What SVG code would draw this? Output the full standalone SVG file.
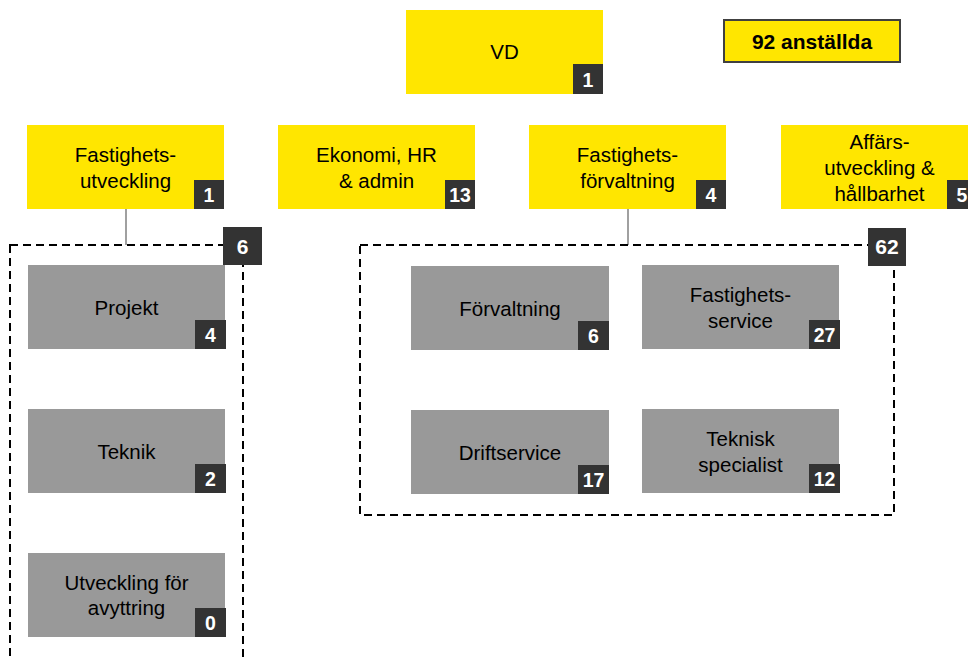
<svg xmlns="http://www.w3.org/2000/svg" width="968" height="658" viewBox="0 0 968 658">
<style>
.y{fill:#FFE600}
.g{fill:#999999}
.b{fill:#333333}
.t{font-family:"Liberation Sans",Arial,sans-serif;font-size:20.5px;fill:#000;text-anchor:middle}
.n{font-family:"Liberation Sans",Arial,sans-serif;font-size:19.5px;font-weight:bold;fill:#fff;text-anchor:middle}
.nb{font-family:"Liberation Sans",Arial,sans-serif;font-size:21px;font-weight:bold;fill:#fff;text-anchor:middle}
.d{fill:none;stroke:#000;stroke-width:2;stroke-dasharray:8 5}
.c{stroke:#808080;stroke-width:1.5;fill:none}
</style>
<rect width="968" height="658" fill="#fff"/>
<g id="connectors">
<line class="c" x1="126" y1="209" x2="126" y2="245"/>
<line class="c" x1="628" y1="209" x2="628" y2="245"/>
</g>
<g id="group-utveckling">
<rect class="d" x="10" y="245" width="233" height="460"/>
<rect class="b" x="223" y="227" width="39" height="38"/>
<text class="nb" x="242.5" y="253.5">6</text>
</g>
<g id="group-forvaltning">
<rect class="d" x="360" y="245" width="534" height="270"/>
<rect class="b" x="868" y="228" width="38" height="38"/>
<text class="nb" x="887" y="254">62</text>
</g>
<g id="total">
<rect x="724" y="20" width="176" height="42" fill="#FFE600" stroke="#404040" stroke-width="2"/>
<text x="812" y="49" style="font-family:'Liberation Sans',Arial,sans-serif;font-size:21px;font-weight:bold;fill:#000;text-anchor:middle">92 anställda</text>
</g>
<g id="vd">
<rect class="y" x="406" y="10" width="197" height="84"/>
<text class="t" x="504.5" y="59">VD</text>
<rect class="b" x="573" y="64" width="30" height="30"/>
<text class="n" x="588" y="86.5">1</text>
</g>
<g id="fastighetsutveckling">
<rect class="y" x="27" y="125" width="197" height="84"/>
<text class="t" x="125.5" y="161.5">Fastighets-</text>
<text class="t" x="125.5" y="187.5">utveckling</text>
<rect class="b" x="194" y="180" width="30" height="29"/>
<text class="n" x="209" y="202">1</text>
</g>
<g id="ekonomi">
<rect class="y" x="278" y="125" width="197" height="84"/>
<text class="t" x="376.5" y="161.5">Ekonomi,  HR</text>
<text class="t" x="376.5" y="187.5">&amp; admin</text>
<rect class="b" x="445" y="180" width="30" height="29"/>
<text class="n" x="460" y="202">13</text>
</g>
<g id="fastighetsforvaltning">
<rect class="y" x="529" y="125" width="197" height="84"/>
<text class="t" x="627.5" y="161.5">Fastighets-</text>
<text class="t" x="627.5" y="187.5">förvaltning</text>
<rect class="b" x="696" y="180" width="30" height="29"/>
<text class="n" x="711" y="202">4</text>
</g>
<g id="affarsutveckling">
<rect class="y" x="781" y="125" width="197" height="84"/>
<text class="t" x="879.5" y="148.5">Affärs-</text>
<text class="t" x="879.5" y="174.5">utveckling &amp;</text>
<text class="t" x="879.5" y="200.5">hållbarhet</text>
<rect class="b" x="947" y="180" width="30" height="29"/>
<text class="n" x="962" y="202">5</text>
</g>
<g id="projekt">
<rect class="g" x="28" y="265" width="197" height="84"/>
<text class="t" x="126.5" y="315">Projekt</text>
<rect class="b" x="195" y="320" width="31" height="29"/>
<text class="n" x="210.5" y="342">4</text>
</g>
<g id="teknik">
<rect class="g" x="28" y="409" width="197" height="84"/>
<text class="t" x="126.5" y="459">Teknik</text>
<rect class="b" x="195" y="464" width="31" height="29"/>
<text class="n" x="210.5" y="486">2</text>
</g>
<g id="avyttring">
<rect class="g" x="28" y="553" width="197" height="84"/>
<text class="t" x="126.5" y="590">Utveckling  för</text>
<text class="t" x="126.5" y="615">avyttring</text>
<rect class="b" x="195" y="608" width="31" height="29"/>
<text class="n" x="210.5" y="630">0</text>
</g>
<g id="forvaltning">
<rect class="g" x="411" y="266" width="198" height="84"/>
<text class="t" x="510" y="316">Förvaltning</text>
<rect class="b" x="578" y="321" width="31" height="29"/>
<text class="n" x="593.5" y="343">6</text>
</g>
<g id="fastighetsservice">
<rect class="g" x="642" y="265" width="197" height="84"/>
<text class="t" x="740.5" y="301.5">Fastighets-</text>
<text class="t" x="740.5" y="327.5">service</text>
<rect class="b" x="809" y="320" width="31" height="29"/>
<text class="n" x="824.5" y="342">27</text>
</g>
<g id="driftservice">
<rect class="g" x="411" y="410" width="198" height="84"/>
<text class="t" x="510" y="459.5">Driftservice</text>
<rect class="b" x="578" y="465" width="31" height="29"/>
<text class="n" x="593.5" y="487">17</text>
</g>
<g id="teknisk-specialist">
<rect class="g" x="642" y="409" width="197" height="84"/>
<text class="t" x="740.5" y="445.5">Teknisk</text>
<text class="t" x="740.5" y="471.5">specialist</text>
<rect class="b" x="809" y="464" width="31" height="29"/>
<text class="n" x="824.5" y="486">12</text>
</g>
</svg>
